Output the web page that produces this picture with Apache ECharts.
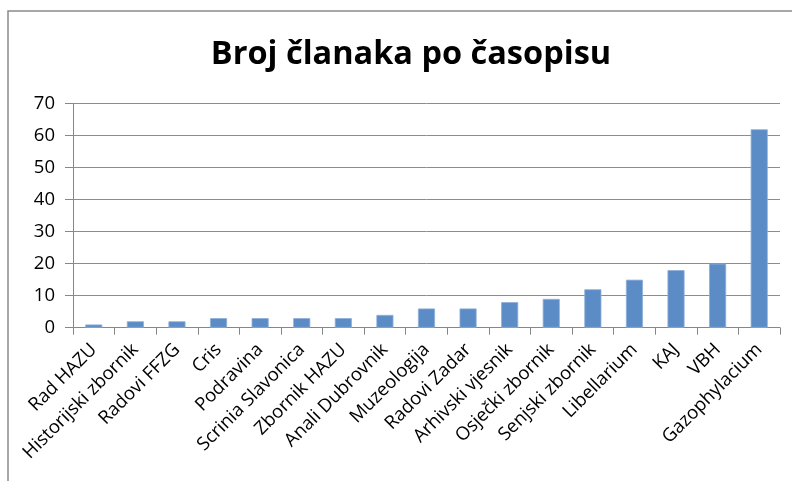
<!DOCTYPE html>
<html><head><meta charset="utf-8">
<script src="https://cdn.jsdelivr.net/npm/echarts@6/dist/echarts.min.js"></script>
<style>html,body{margin:0;padding:0;background:#fff}#c{width:792px;height:481px}</style>
</head><body><div id="c"></div>
<script>
const categories = ["Rad HAZU","Historijski zbornik","Radovi FFZG","Cris","Podravina","Scrinia Slavonica","Zbornik HAZU","Anali Dubrovnik","Muzeologija","Radovi Zadar","Arhivski vjesnik","Osječki zbornik","Senjski zbornik","Libellarium","KAJ","VBH","Gazophylacium"];
const values = [1,2,2,3,3,3,3,4,6,6,8,9,12,15,18,20,62];
const titleText = "Broj članaka po časopisu";

const chart = echarts.init(document.getElementById('c'), null, {renderer:'canvas'});
chart.setOption({
  animation:false,
  backgroundColor:'#fff',
  graphic:[{type:'rect',shape:{x:8,y:11,width:900,height:600},style:{fill:'none',stroke:'#8a8a8a',lineWidth:1.5},silent:true}],
  title:{text:titleText,left:406,top:33,textAlign:'center',
    textStyle:{fontFamily:'Open Sans',fontWeight:'bold',fontSize:32.5,color:'#000'}},
  grid:{left:73,right:12,top:103.7,bottom:153.3,containLabel:false},
  xAxis:{type:'category',data:categories,
    axisLine:{lineStyle:{color:'#878787',width:1}},
    axisTick:{show:true,length:7,alignWithLabel:false,lineStyle:{color:'#878787'}},
    axisLabel:{rotate:45,interval:0,margin:19,fontFamily:'Open Sans',fontSize:18.5,color:'#000'}},
  yAxis:{type:'value',min:0,max:70,interval:10,
    axisLine:{show:true,lineStyle:{color:'#878787'}},
    axisTick:{show:true,length:8,lineStyle:{color:'#878787'}},
    splitLine:{lineStyle:{color:'#8c8c8c',width:1}},
    axisLabel:{margin:18,fontFamily:'Open Sans',fontSize:18.5,color:'#000'}},
  series:[{type:'bar',data:values,barWidth:'41%',
    itemStyle:{color:'#5B8CC6',borderColor:'#8EAFD9',borderWidth:0.8}}]
});
</script></body></html>
